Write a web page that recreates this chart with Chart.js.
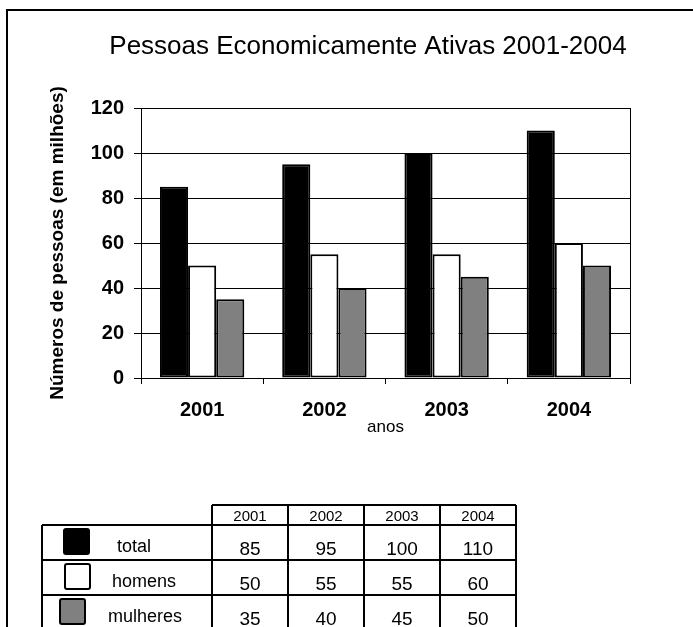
<!DOCTYPE html>
<html><head><meta charset="utf-8">
<script src="https://cdn.jsdelivr.net/npm/chart.js@4/dist/chart.umd.min.js"></script>
<style>html,body{margin:0;padding:0;background:#fff}canvas{display:block}</style>
</head><body>
<canvas id="c" width="693" height="627"></canvas>
<script>
// ---- data ----
const titleText = 'Pessoas Economicamente Ativas 2001-2004';
const yAxisTitle = 'Números de pessoas (em milhões)';
const xAxisTitle = 'anos';
const years = ['2001', '2002', '2003', '2004'];
const seriesNames = ['total', 'homens', 'mulheres'];
const totalValues = [85, 95, 100, 110];
const homensValues = [50, 55, 55, 60];
const mulheresValues = [35, 40, 45, 50];
const yTicks = [0, 20, 40, 60, 80, 100, 120];

// ---- styles / layout ----
const FONT = '"Liberation Sans", Arial, Helvetica, sans-serif';
const seriesColors = ['#000000', '#ffffff', '#808080'];
const seriesValues = [totalValues, homensValues, mulheresValues];
const tableLayout = {
  left: 42, cols: [212, 288, 364, 440, 516],
  headerTop: 505, rowTops: [525, 560, 595], rowH: 35,
  labelX: [134, 144, 145],
  swatches: [[63, 528], [64, 563], [59, 598]], swatchSize: 27
};

const decor = {
  id: 'decor',
  afterDraw(chart) {
    const ctx = chart.ctx;
    ctx.save();
    // outer frame (top and left visible)
    ctx.strokeStyle = '#000'; ctx.lineWidth = 2;
    ctx.beginPath(); ctx.moveTo(7, 640); ctx.lineTo(7, 10); ctx.lineTo(700, 10); ctx.stroke();
    // title
    ctx.fillStyle = '#000';
    ctx.font = '26px ' + FONT;
    ctx.textAlign = 'center'; ctx.textBaseline = 'alphabetic';
    ctx.fillText(titleText, 368, 54);
    // data table
    const T = tableLayout;
    const last = T.cols[T.cols.length - 1];
    ctx.lineWidth = 2; ctx.strokeStyle = '#000';
    ctx.beginPath();
    ctx.moveTo(T.cols[0], T.headerTop); ctx.lineTo(last, T.headerTop);
    T.rowTops.forEach(y => { ctx.moveTo(T.left, y); ctx.lineTo(last, y); });
    ctx.moveTo(T.left, T.rowTops[0]); ctx.lineTo(T.left, 640);
    T.cols.forEach(x => { ctx.moveTo(x, T.headerTop); ctx.lineTo(x, 640); });
    ctx.stroke();
    ctx.textAlign = 'center';
    ctx.font = '15px ' + FONT;
    years.forEach((yr, i) => {
      ctx.fillText(yr, (T.cols[i] + T.cols[i + 1]) / 2, T.headerTop + 16);
    });
    seriesNames.forEach((name, r) => {
      const top = T.rowTops[r];
      ctx.font = '18px ' + FONT;
      ctx.fillStyle = '#000';
      ctx.fillText(name, T.labelX[r], top + 27);
      ctx.font = '19px ' + FONT;
      seriesValues[r].forEach((v, i) => {
        ctx.fillText(String(v), (T.cols[i] + T.cols[i + 1]) / 2, top + 30);
      });
      const [sx, sy] = T.swatches[r];
      ctx.beginPath();
      if (ctx.roundRect) ctx.roundRect(sx + 1, sy + 1, T.swatchSize - 2, T.swatchSize - 2, 2);
      else ctx.rect(sx + 1, sy + 1, T.swatchSize - 2, T.swatchSize - 2);
      ctx.fillStyle = seriesColors[r];
      ctx.fill();
      ctx.lineWidth = 2; ctx.strokeStyle = '#000';
      ctx.stroke();
    });
    ctx.restore();
  }
};

new Chart(document.getElementById('c'), {
  type: 'bar',
  data: {
    labels: years,
    datasets: seriesNames.map((name, i) => ({
      label: name,
      data: seriesValues[i],
      backgroundColor: seriesColors[i],
      borderColor: '#000',
      borderWidth: 2,
      borderSkipped: false,
      categoryPercentage: 0.69,
      barPercentage: 1.0
    }))
  },
  options: {
    responsive: false,
    animation: false,
    devicePixelRatio: 1,
    layout: { padding: { left: 46, right: 63, top: 108, bottom: 189 } },
    plugins: { legend: { display: false }, tooltip: { enabled: false }, title: { display: false } },
    scales: {
      x: {
        offset: true,
        grid: {
          offset: true,
          color: c => (c.tick === undefined || c.index === 0) ? '#000' : 'rgba(0,0,0,0)',
          tickColor: '#000', tickLength: 6, lineWidth: 1
        },
        border: { color: '#000', width: 1 },
        ticks: { color: '#000', font: { family: FONT, size: 20, weight: 'bold', lineHeight: 1 }, padding: 16, maxRotation: 0 },
        title: { display: true, text: xAxisTitle, color: '#000', font: { family: FONT, size: 17, weight: 'normal', lineHeight: 1.2 }, padding: 0 },
        afterFit: s => { s.height = 60; }
      },
      y: {
        min: yTicks[0], max: yTicks[yTicks.length - 1],
        ticks: { stepSize: yTicks[1] - yTicks[0], color: '#000', font: { family: FONT, size: 20, weight: 'bold' }, padding: 10 },
        grid: { color: '#000', tickColor: '#000', tickLength: 7, lineWidth: 1 },
        border: { color: '#000', width: 1 },
        title: { display: true, text: yAxisTitle, color: '#000', font: { family: FONT, size: 19, weight: 'bold', lineHeight: 1.2 }, padding: 0 },
        afterFit: s => { s.width = 95; }
      }
    }
  },
  plugins: [decor]
});
</script>
</body></html>
